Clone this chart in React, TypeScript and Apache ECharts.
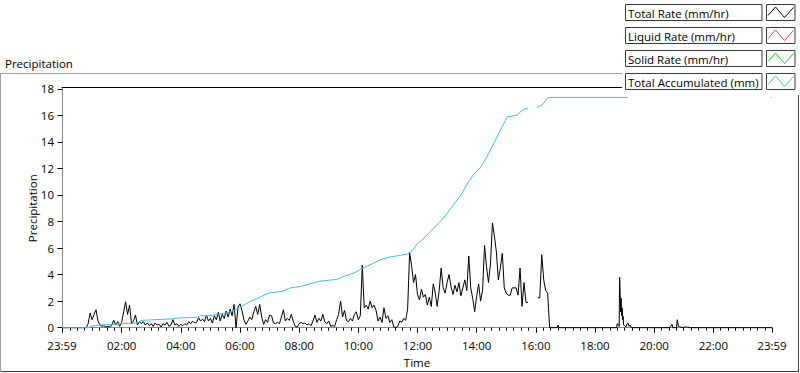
import { useEffect, useRef } from 'react';
import * as echarts from 'echarts';

// ---- tick labels ----
const tickLabels = ['23:59', '02:00', '04:00', '06:00', '08:00', '10:00', '12:00', '14:00', '16:00', '18:00', '20:00', '22:00', '23:59'];
const yTicks = [0, 2, 4, 6, 8, 10, 12, 14, 16, 18];

// ---- series names ----
const seriesNames = ['Total Rate (mm/hr)', 'Liquid Rate (mm/hr)', 'Solid Rate (mm/hr)', 'Total Accumulated (mm)'];
const seriesColors = ['#000000', '#ff3b3b', '#19d219', '#3dbdf5'];

// ---- Total Rate: quiet start, then samples every 4 minutes from 00:48 ----
const rateLeadMinutes = [-1, 44];
const rateLeadValues = [0, 0];
const rateStartMinute = 48; // 00:48
const rateStepMinutes = 4;
const rateValues: (number | null)[] = [
  0, 0.3, 1.1, 0.6, 1.0, 1.35, 0.5, 0.2, 0.1, 0.15,
  0.05, 0.1, 0.05, 0.2, 0.55, 0.2, 0.45, 0.1, 0.4, 1.2,
  1.95, 1.0, 1.7, 0.3, 0.5, 0.95, 0.2, 0.45, 0.3, 0.45,
  0.2, 0.35, 0.15, 0.3, 0.1, 0.35, 0.2, 0.25, 0.05, 0.3,
  0.2, 0.4, 0.1, 0.2, 0.6, 0.2, 0.3, 0.1, 0.25, 0.15,
  0.3, 0.2, 0.45, 0.3, 0.5, 0.35, 0.4, 0.75, 0.5, 0.65,
  0.45, 0.95, 0.5, 0.7, 0.35, 0.9, 0.6, 1.15, 0.5, 1.0,
  0.7, 1.25, 0.8, 1.4, 0.9, 1.75, 0, 1.55, 1.8, 1.3,
  0.6, 0.25, 0.5, 0.8, 0.6, 1.2, 1.6, 1.0, 1.75, 0.8,
  0.25, 0.6, 0.4, 0.95, 0.9, 0.35, 0.3, 0.4, 0.3, 0.8,
  1.35, 0.5, 0.7, 0.55, 1.0, 0.5, 0.1, 0.05, 0.3, 0.4,
  0.3, 0.35, 0.2, 0.3, 0.15, 0.5, 0.95, 0.4, 0.7, 0.5,
  1.0, 0.45, 0.3, 0.5, 0.1, 0.15, 0.1, 0.6, 1.0, 2.0,
  0.8, 1.3, 0.55, 0.45, 0.7, 0.5, 1.0, 1.2, 0.6, 0.9,
  4.7, 1.5, 1.7, 1.4, 2.0, 1.5, 1.7, 1.3, 0.5, 0.8,
  0.4, 1.5, 0.7, 0.9, 0.4, 0.6, 0.05, 0, 0.1, 0.5,
  0.4, 0.7, 0.55, 1.4, 5.65, 4.7, 3.4, 4.0, 2.5, 2.1,
  2.9, 2.3, 2.5, 1.7, 2.3, 1.6, 3.3, 2.6, 1.6, 2.8,
  4.5, 3.0, 2.6, 3.4, 4.0, 3.1, 2.5, 3.2, 2.7, 3.4,
  2.4, 3.0, 3.6, 2.8, 5.4, 3.0, 2.2, 1.2, 2.4, 3.3,
  2.0, 2.8, 6.2, 4.6, 3.4, 4.8, 7.9, 6.9, 5.7, 3.6,
  4.5, 5.6, 3.0, 2.6, 2.45, 2.45, 3.0, 3.0, 3.0, 2.45,
  4.5, 1.6, 3.4, 1.9, 1.9, null, null, null, null, 2.25,
  2.25, 5.5, 3.6, 2.8, 2.6, 0,
];
// ---- Total Rate: later showers (minute of day, value) ----
const rateLateMinutes = [1003, 1005, 1007, 1124, 1125, 1127, 1129, 1130, 1131, 1132, 1133, 1134, 1135, 1136, 1137, 1138, 1140, 1143, 1145, 1147, 1149, 1151, 1154, 1232, 1236, 1238, 1245, 1247, 1249, 1252, 1260, 1263, 1266, 1268, 1271, 1439];
const rateLateValues = [0, 0.2, 0, 0, 0.3, 0.25, 0.1, 3.8, 2.6, 1.2, 2.2, 0.9, 1.5, 0.6, 0.85, 0.2, 0.15, 0.05, 0.3, 0.35, 0.1, 0.2, 0, 0, 0.25, 0, 0, 0.6, 0.1, 0.05, 0, 0.08, 0, 0.08, 0, 0];

// ---- Total Accumulated (minute of day, mm) ----
const accMinutes = [-1, 52, 60, 76, 100, 131, 153, 159, 198, 224, 234, 273, 279, 305, 330, 346, 360, 370, 380, 395, 405, 417, 447, 461, 482, 502, 522, 557, 573, 593, 603, 616, 630, 644, 660, 685, 699, 709, 719, 729, 745, 766, 780, 796, 810, 820, 833, 847, 861, 873, 887, 898, 902, 922, 928, 938, 944, 945, 961, 962, 973, 979, 985, 1439];
const accValues: (number | null)[] = [0, 0, 0.12, 0.2, 0.25, 0.32, 0.36, 0.55, 0.62, 0.66, 0.73, 0.78, 0.9, 0.95, 1.1, 1.27, 1.55, 1.75, 1.96, 2.2, 2.38, 2.6, 2.75, 2.99, 3.1, 3.31, 3.5, 3.65, 3.9, 4.15, 4.37, 4.6, 4.85, 5.1, 5.3, 5.45, 5.55, 5.8, 6.3, 6.6, 7.2, 8.0, 8.6, 9.4, 10.1, 10.8, 11.5, 12.05, 12.9, 13.75, 14.8, 15.6, 15.9, 16.0, 16.25, 16.5, 16.5, null, null, 16.6, 16.8, 17.1, 17.35, 17.35];

const FONT = '"Open Sans", "Noto Sans", sans-serif';
const FS = 11.5;

function tickMinute(label: string, i: number) {
  if (i === 0) return -1;
  const [h, m] = label.split(':').map(Number);
  return h * 60 + m;
}
const majorTicks = tickLabels.map(tickMinute);
const minorTicks: number[] = [];
for (let m = 15; m < 1439; m += 15) if (m % 120 !== 0) minorTicks.push(m);

function fmt(v: number) {
  if (v < 0 || v >= 1439) return '23:59';
  const h = Math.floor(v / 60);
  const m = v % 60;
  return String(h).padStart(2, '0') + ':' + String(m).padStart(2, '0');
}

function buildRate() {
  const d: [number, number | null][] = [];
  rateLeadMinutes.forEach((t, i) => d.push([t, rateLeadValues[i]]));
  rateValues.forEach((v, i) => d.push([rateStartMinute + i * rateStepMinutes, v]));
  rateLateMinutes.forEach((t, i) => d.push([t, rateLateValues[i]]));
  return d;
}
function buildAcc() {
  return accMinutes.map((t, i) => [t, accValues[i]]);
}

function legendGraphics() {
  const els: any[] = [];
  els.push({ type: 'rect', z: 100, shape: { x: 622, y: 0, width: 178, height: 95 }, style: { fill: '#fff' } });
  els.push({ type: 'rect', z: 100, shape: { x: 628, y: 94, width: 143, height: 6 }, style: { fill: '#fff' } });
  seriesNames.forEach((name, i) => {
    const y0 = 4.5 + i * 23;
    els.push({ type: 'rect', z: 101, shape: { x: 625.5, y: y0, width: 136.5, height: 16 }, style: { fill: '#fff', stroke: '#3a3a3a', lineWidth: 1 } });
    els.push({ type: 'text', z: 102, x: 628, y: y0 + 8.5, style: { text: name, fill: '#000', font: `${FS}px ${FONT}`, verticalAlign: 'middle', align: 'left' } });
    els.push({ type: 'rect', z: 101, shape: { x: 766.5, y: y0, width: 28.5, height: 16 }, style: { fill: '#fff', stroke: '#3a3a3a', lineWidth: 1 } });
    els.push({
      type: 'polyline', z: 102,
      shape: { points: [[768, y0 + 11], [775.5, y0 + 2.5], [784.5, y0 + 13], [793.5, y0 + 3]] },
      style: { stroke: seriesColors[i], lineWidth: 1, fill: 'none' },
    });
  });
  return els;
}

export default function App() {
  const ref = useRef<HTMLDivElement>(null);
  useEffect(() => {
    document.body.style.margin = '0';
    const chart = echarts.init(ref.current!, null, { renderer: 'svg' });
    const option: any = {
      animation: false,
      backgroundColor: '#fff',
      textStyle: { fontFamily: FONT },
      grid: { left: 62, right: 28, top: 87.5, bottom: 38.5, containLabel: false },
      xAxis: [
        {
          type: 'value', min: -1, max: 1439, position: 'bottom',
          axisLine: { show: true, lineStyle: { color: '#8a8a8a', width: 1 } },
          axisTick: { show: true, customValues: minorTicks, length: 3, lineStyle: { color: '#000' } },
          axisLabel: { show: false },
          splitLine: { show: false },
        },
        {
          type: 'value', min: -1, max: 1439, position: 'bottom',
          axisLine: { show: false },
          axisTick: { show: true, customValues: majorTicks, length: 5, lineStyle: { color: '#000' } },
          axisLabel: { show: true, customValues: majorTicks, formatter: (v: number) => fmt(v), margin: 10, color: '#000', fontSize: FS, fontFamily: FONT, showMinLabel: true, showMaxLabel: true },
          splitLine: { show: false },
          name: 'Time', nameLocation: 'middle', nameGap: 27, nameMoveOverlap: false,
          nameTextStyle: { color: '#000', fontSize: FS, fontFamily: FONT },
        },
        {
          type: 'value', min: -1, max: 1439, position: 'top',
          axisLine: { show: true, lineStyle: { color: '#000', width: 1 } },
          axisTick: { show: false }, axisLabel: { show: false }, splitLine: { show: false },
        },
      ],
      yAxis: [
        {
          type: 'value', min: -0.1, max: 18.1, position: 'left',
          axisLine: { show: true, lineStyle: { color: '#000', width: 1 } },
          axisTick: { show: true, customValues: yTicks, length: 5, lineStyle: { color: '#000' } },
          axisLabel: { show: true, customValues: yTicks, margin: 8, color: '#000', fontSize: FS, fontFamily: FONT },
          splitLine: { show: false },
          name: 'Precipitation', nameLocation: 'middle', nameGap: 24, nameMoveOverlap: false,
          nameTextStyle: { color: '#000', fontSize: FS, fontFamily: FONT },
        },
        {
          type: 'value', min: -0.1, max: 18.1, position: 'right',
          axisLine: { show: true, lineStyle: { color: '#8a8a8a', width: 1 } },
          axisTick: { show: false }, axisLabel: { show: false }, splitLine: { show: false },
        },
      ],
      series: [
        { name: seriesNames[0], type: 'line', data: buildRate(), showSymbol: false, symbol: 'none', connectNulls: false, lineStyle: { color: seriesColors[0], width: 1 }, itemStyle: { color: seriesColors[0] }, z: 3 },
        { name: seriesNames[1], type: 'line', data: [], showSymbol: false, lineStyle: { color: seriesColors[1], width: 1 } },
        { name: seriesNames[2], type: 'line', data: [], showSymbol: false, lineStyle: { color: seriesColors[2], width: 1 } },
        { name: seriesNames[3], type: 'line', data: buildAcc(), showSymbol: false, symbol: 'none', connectNulls: false, lineStyle: { color: seriesColors[3], width: 1 }, itemStyle: { color: seriesColors[3] }, z: 4 },
      ],
      graphic: [
        { type: 'line', z: 50, shape: { x1: 0.5, y1: 73.5, x2: 799, y2: 73.5 }, style: { stroke: '#a0a0a0', lineWidth: 1 } },
        { type: 'line', z: 50, shape: { x1: 0.5, y1: 73.5, x2: 0.5, y2: 371.5 }, style: { stroke: '#a0a0a0', lineWidth: 1 } },
        { type: 'line', z: 50, shape: { x1: 0.5, y1: 371.5, x2: 799, y2: 371.5 }, style: { stroke: '#404040', lineWidth: 1 } },
        { type: 'line', z: 50, shape: { x1: 798.5, y1: 73.5, x2: 798.5, y2: 371.5 }, style: { stroke: '#404040', lineWidth: 1 } },
        { type: 'text', z: 50, x: 5, y: 63, style: { text: 'Precipitation', fill: '#000', font: `${FS}px ${FONT}`, verticalAlign: 'middle', align: 'left' } },
        ...legendGraphics(),
      ],
    };
    chart.setOption(option);
    return () => chart.dispose();
  }, []);
  return <div ref={ref} style={{ position: 'absolute', left: 0, top: 0, width: 800, height: 373 }} />;
}
